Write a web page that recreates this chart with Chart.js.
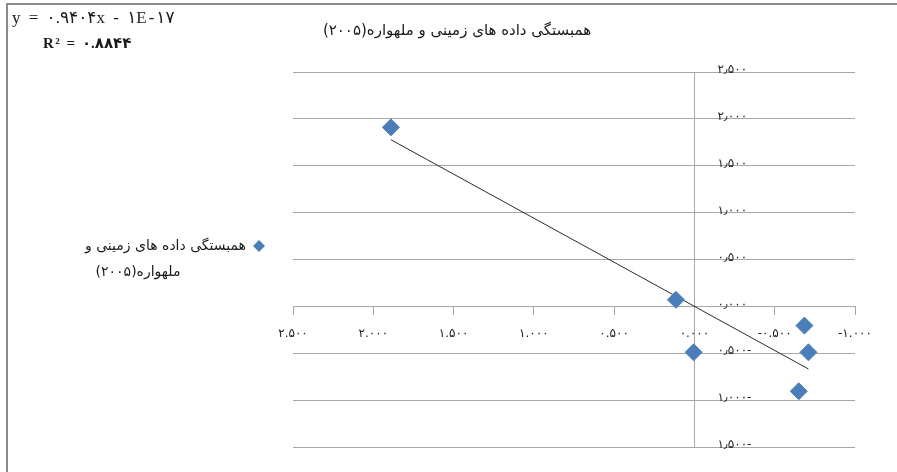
<!DOCTYPE html>
<html>
<head>
<meta charset="utf-8">
<script src="https://cdn.jsdelivr.net/npm/chart.js@4.4.0/dist/chart.umd.min.js"></script>
<style>
    html, body { margin: 0; padding: 0; background: #fff; }
    #wrap { position: relative; width: 897px; height: 472px; }
</style>
</head>
<body>
<div id="wrap"><canvas id="myChart" width="897" height="472"></canvas></div>
<script>
// data
const chartTitle = "همبستگی داده های زمینی و ملهواره(۲۰۰۵)"
const legendLines = ["همبستگی داده های زمینی و", "ملهواره(۲۰۰۵)"]
const equationLines = ["y = ۰.۹۴۰۴x - ۱E-۱۷", "R² = ۰.۸۸۴۴"]

const pointsX = [1.89, 0.115, 0.005, -0.685, -0.71, -0.65]
const pointsY = [1.91, 0.07, -0.49, -0.205, -0.49, -0.905]
const trendSlope = 0.9404
const trendIntercept = 0

const xTicks = [2.5, 2, 1.5, 1, 0.5, 0, -0.5, -1]
const xTickLabels = ["۲.۵۰۰", "۲.۰۰۰", "۱.۵۰۰", "۱.۰۰۰", "۰.۵۰۰", "۰.۰۰۰", "-۰.۵۰۰", "-۱.۰۰۰"]
const yTicks = [2.5, 2, 1.5, 1, 0.5, 0, -0.5, -1, -1.5]
const yTickLabels = ["۲٫۵۰۰", "۲٫۰۰۰", "۱٫۵۰۰", "۱٫۰۰۰", "۰٫۵۰۰", "۰٫۰۰۰", "۰٫۵۰۰-", "۱٫۰۰۰-", "۱٫۵۰۰-"]

const pointColor = '#4a7ebb'
const gridColor = '#a8a8a8'
const arabicFont = '"DejaVu Sans", sans-serif'

const scatterData = pointsX.map((x, i) => ({x: x, y: pointsY[i]}))

// trendline spans the data range, as excel draws it
const xMax = Math.max(...pointsX)
const xMin = Math.min(...pointsX)
const trendData = [xMax, xMin].map(x => ({x: x, y: trendSlope * x + trendIntercept}))

function labelFor(value, ticks, labels) {
    const i = ticks.findIndex(t => Math.abs(t - value) < 1e-9)
    return i >= 0 ? labels[i] : ''
}

// frame, title, legend, equation and y labels are drawn by hand
const decorations = {
    id: 'decorations',
    beforeDraw(chart) {
        // spaced-out digits like the excel original
        chart.ctx.letterSpacing = '3px'
    },
    afterDraw(chart) {
        const ctx = chart.ctx
        ctx.save()

        // y tick labels sit to the right of the axis line
        const yScale = chart.scales.y
        const axisX = chart.scales.x.getPixelForValue(0)
        ctx.fillStyle = '#222'
        ctx.font = '12px ' + arabicFont
        ctx.textAlign = 'left'
        ctx.textBaseline = 'middle'
        yTicks.forEach((v, i) => {
            ctx.fillText(yTickLabels[i], axisX + 23, yScale.getPixelForValue(v) - 2)
        })

        ctx.letterSpacing = '0px'
        ctx.strokeStyle = '#8c8c8c'
        ctx.lineWidth = 2
        ctx.beginPath()
        ctx.moveTo(7, 472)
        ctx.lineTo(7, 4)
        ctx.lineTo(897, 4)
        ctx.stroke()

        ctx.fillStyle = '#1a1a1a'
        ctx.direction = 'rtl'
        ctx.font = '15px ' + arabicFont
        ctx.textAlign = 'center'
        ctx.fillText(chartTitle, 457, 31)

        ctx.font = '14px ' + arabicFont
        ctx.textAlign = 'right'
        ctx.fillText(legendLines[0], 246, 246)
        ctx.textAlign = 'center'
        ctx.fillText(legendLines[1], 138, 272)

        // legend marker
        ctx.fillStyle = pointColor
        ctx.beginPath()
        ctx.moveTo(259, 240)
        ctx.lineTo(265, 246)
        ctx.lineTo(259, 252)
        ctx.lineTo(253, 246)
        ctx.closePath()
        ctx.fill()

        ctx.direction = 'ltr'
        ctx.fillStyle = '#1a1a1a'
        ctx.textAlign = 'left'
        ctx.letterSpacing = '2px'
        ctx.font = '17px "Liberation Serif", "DejaVu Sans", serif'
        ctx.fillText(equationLines[0], 12, 19)
        ctx.letterSpacing = '1.5px'
        ctx.font = 'bold 15px "Liberation Serif", "DejaVu Sans", serif'
        ctx.fillText(equationLines[1], 43, 44)

        ctx.restore()
        ctx.letterSpacing = '0px'
    }
}

new Chart(document.querySelector('#myChart'), {
    type: 'scatter',
    data: {
        datasets: [{
            label: chartTitle,
            data: scatterData,
            backgroundColor: pointColor,
            borderColor: pointColor,
            pointStyle: 'rectRot',
            pointRadius: 8.5,
            pointHoverRadius: 8.5,
            order: 1,
        }, {
            label: 'trend',
            data: trendData,
            showLine: true,
            borderColor: '#2b2b2b',
            borderWidth: 1,
            pointRadius: 0,
            fill: false,
            order: 2,
        }]
    },
    options: {
        responsive: false,
        animation: false,
        maintainAspectRatio: false,
        layout: {
            padding: {left: 293, right: 42, top: 72, bottom: 25}
        },
        plugins: {
            legend: {display: false},
            title: {display: false},
            tooltip: {enabled: false},
        },
        scales: {
            x: {
                type: 'linear',
                position: {y: 0},
                reverse: true,
                min: -1,
                max: 2.5,
                afterBuildTicks: (axis) => { axis.ticks = xTicks.map(v => ({value: v})) },
                grid: {
                    drawOnChartArea: false,
                    drawTicks: true,
                    tickLength: 8,
                    color: gridColor,
                },
                border: {color: gridColor, width: 1},
                ticks: {
                    padding: 12,
                    maxRotation: 0,
                    color: '#222',
                    font: {family: arabicFont, size: 12},
                    callback: (value) => labelFor(value, xTicks, xTickLabels),
                }
            },
            y: {
                type: 'linear',
                position: {x: 0},
                min: -1.5,
                max: 2.5,
                afterBuildTicks: (axis) => { axis.ticks = yTicks.map(v => ({value: v})) },
                grid: {
                    drawTicks: false,
                    color: gridColor,
                },
                border: {color: gridColor, width: 1},
                ticks: {display: false}
            }
        }
    },
    plugins: [decorations]
});
</script>
</body>
</html>
